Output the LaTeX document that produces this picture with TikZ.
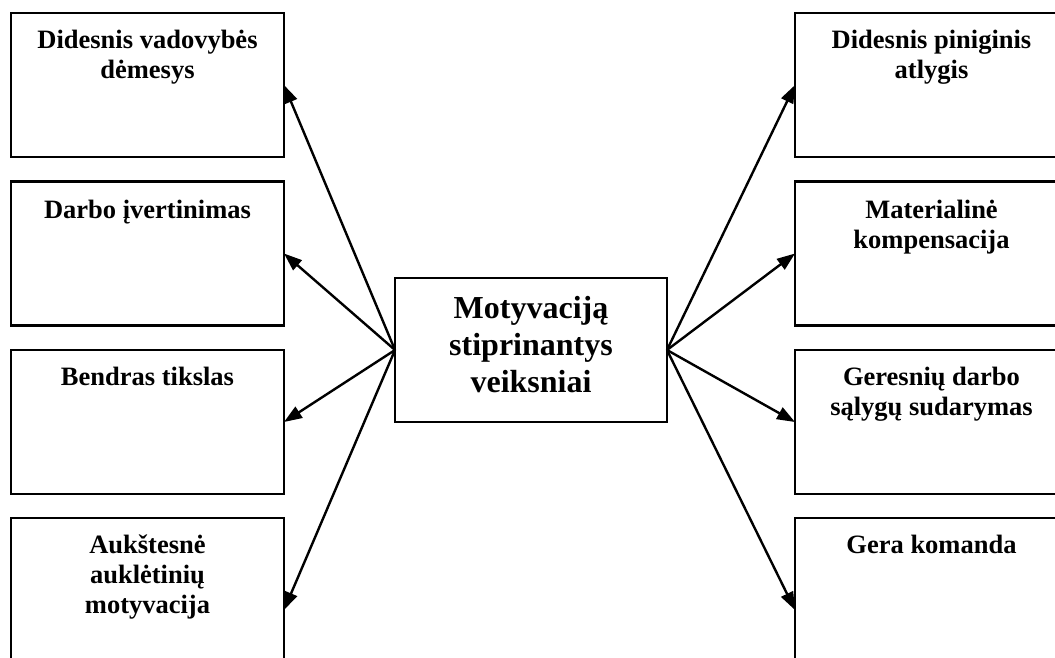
\documentclass[tikz,border=0pt]{standalone}
\usepackage{fontspec}
\setmainfont{Liberation Serif}
\usetikzlibrary{arrows.meta}
\begin{document}
\begin{tikzpicture}[x=1pt,y=-1pt,
  box/.style={draw,line width=2.4pt,minimum width=273pt,minimum height=144pt,inner sep=0pt,outer sep=0pt},
  lbl/.style={font=\fontsize{26.5}{30}\selectfont\bfseries,align=center,anchor=base,inner sep=0pt},
  clbl/.style={font=\fontsize{32}{37}\selectfont\bfseries,align=center,anchor=base,inner sep=0pt},
  arr/.style={line width=2.4pt,-{Triangle[length=18pt,width=13pt]}}]
\useasboundingbox (0,0) rectangle (1055,657);
\clip (0,0) rectangle (1055,657);
% left boxes
\node[box] (l1) at (147.5,85) {};
\node[box] (l2) at (147.5,253.5) {};
\node[box] (l3) at (147.5,422) {};
\node[box,minimum height=184pt] (l4) at (147.5,610) {};
% right boxes
\node[box] (r1) at (931.5,85) {};
\node[box] (r2) at (931.5,253.5) {};
\node[box] (r3) at (931.5,422) {};
\node[box,minimum height=184pt] (r4) at (931.5,610) {};
% centre
\node[box,minimum width=272pt] (c) at (531,350) {};
% labels (anchor base = last line's baseline)
\node[lbl] (tl1) at (147.5,78) {Didesnis vadovybės\\dėmesys};
\node[lbl] (tl2) at (147.5,218) {Darbo įvertinimas};
\node[lbl] (tl3) at (147.5,385) {Bendras tikslas};
\node[lbl] (tl4) at (147.5,613) {Aukštesnė\\auklėtinių\\motyvacija};
\node[lbl] (tr1) at (931.5,78) {Didesnis piniginis\\atlygis};
\node[lbl] (tr2) at (931.5,248) {Materialinė\\kompensacija};
\node[lbl] (tr3) at (931.5,415) {Geresnių darbo\\sąlygų sudarymas};
\node[lbl] (tr4) at (931.5,553) {Gera komanda};
\node[clbl] (tc) at (531,392) {Motyvaciją\\stiprinantys\\veiksniai};
% arrows
\foreach \n in {l1,l2,l3,l4} \draw[arr] (c.west) -- (\n.east);
\foreach \n in {r1,r2,r3,r4} \draw[arr] (c.east) -- (\n.west);
\end{tikzpicture}
\end{document}
